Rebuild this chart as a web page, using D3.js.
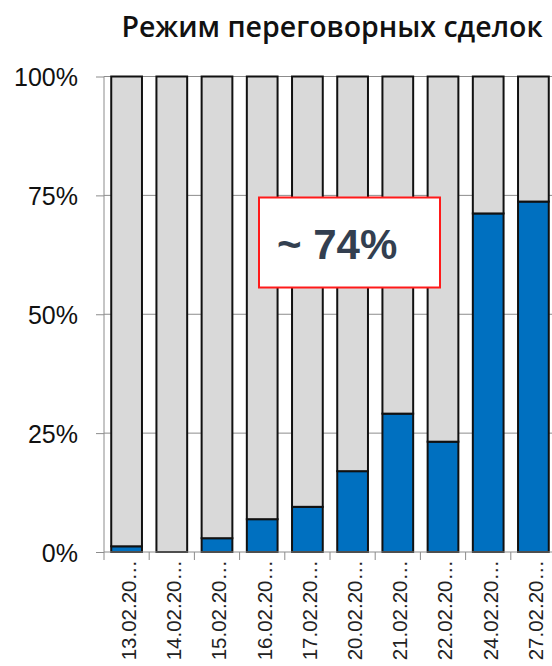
<!DOCTYPE html>
<html><head><meta charset="utf-8">
<script src="https://cdn.jsdelivr.net/npm/d3@7"></script>
<style>body{margin:0;background:#fff}svg{display:block}</style>
</head><body>
<svg id="c" width="552" height="666"></svg>
<script>
const categories = ["13.02.20…","14.02.20…","15.02.20…","16.02.20…","17.02.20…","20.02.20…","21.02.20…","22.02.20…","24.02.20…","27.02.20…"];
const negotiated = [1.2, 0, 2.9, 6.9, 9.5, 17.0, 29.1, 23.2, 71.2, 73.7];
const other = negotiated.map(v => 100 - v);
const yTicks = [0, 25, 50, 75, 100];
const title = "Режим переговорных сделок";
const note = "~ 74%";

const svg = d3.select("#c");
const m = {l:104, r:556, t:76.5, b:552};
const x = d3.scaleBand().domain(categories).range([m.l, m.r]).paddingInner(0.32).paddingOuter(0.16);
const y = d3.scaleLinear().domain([0,100]).range([m.b, m.t]);

// gridlines
svg.append("g").selectAll("line").data(yTicks.filter(d=>d>0)).join("line")
  .attr("x1", m.l).attr("x2", 552).attr("y1", d=>y(d)).attr("y2", d=>y(d))
  .attr("stroke", "#8c8c8c").attr("stroke-width", 1);

const data = categories.map((c,i)=>({c, a:negotiated[i], b:other[i]}));
const stack = d3.stack().keys(["a","b"])(data);
const colors = {a:"#0070C0", b:"#D9D9D9"};
svg.append("g").selectAll("g").data(stack).join("g")
  .attr("fill", d=>colors[d.key])
  .selectAll("rect").data(d=>d.filter(p=>p[1]-p[0]>0)).join("rect")
  .attr("x", d=>x(d.data.c)).attr("width", x.bandwidth())
  .attr("y", d=>y(d[1])).attr("height", d=>y(d[0])-y(d[1]))
  .attr("stroke", "#111").attr("stroke-width", 2);

// y axis
const ya = svg.append("g").attr("transform", `translate(${m.l},0)`)
  .call(d3.axisLeft(y).tickValues(yTicks).tickFormat(d=>d+"%").tickSize(8).tickPadding(18));
ya.select(".domain").attr("stroke", "#8c8c8c").attr("d", `M-0,${m.b}V${m.t}`);
ya.selectAll(".tick line").attr("stroke", "#8c8c8c");
ya.selectAll("text").attr("font-family", "Liberation Sans, Arial, sans-serif").attr("font-size", 25).attr("fill", "#111").attr("dy", "0.36em");

// x axis
const xa = svg.append("g").attr("transform", `translate(0,${m.b})`)
  .call(d3.axisBottom(x).tickSize(0));
xa.select(".domain").attr("stroke", "#8c8c8c").attr("d", `M${m.l},0H552`);
xa.selectAll(".tick text")
  .attr("font-family", "Liberation Sans, Arial, sans-serif").attr("font-size", 20.5).attr("fill", "#222")
  .attr("transform", "rotate(-90)").attr("text-anchor", "end").attr("x", -8).attr("y", 2).attr("dy", "0.36em");
// boundary tick marks
const step = x.step();
svg.append("g").selectAll("line").data(d3.range(categories.length+1)).join("line")
  .attr("x1", i=>x(categories[0]) - (step - x.bandwidth())/2 + i*step)
  .attr("x2", i=>x(categories[0]) - (step - x.bandwidth())/2 + i*step)
  .attr("y1", m.b).attr("y2", m.b+8).attr("stroke", "#8c8c8c");

// title
svg.append("text").attr("x", 332).attr("y", 37).attr("text-anchor", "middle")
  .attr("font-family", "Open Sans, Noto Sans, sans-serif").attr("font-weight", 600).attr("font-size", 28.5)
  .attr("fill", "#111").text(title);

// annotation box
svg.append("rect").attr("x", 259).attr("y", 197.5).attr("width", 181).attr("height", 90)
  .attr("fill", "#fff").attr("stroke", "#ff1a1a").attr("stroke-width", 2);
svg.append("text").attr("x", 277).attr("y", 259)
  .attr("font-family", "Liberation Sans, Arial, sans-serif").attr("font-weight", 700).attr("font-size", 42)
  .attr("fill", "#333F50").text(note);
</script>
</body></html>
